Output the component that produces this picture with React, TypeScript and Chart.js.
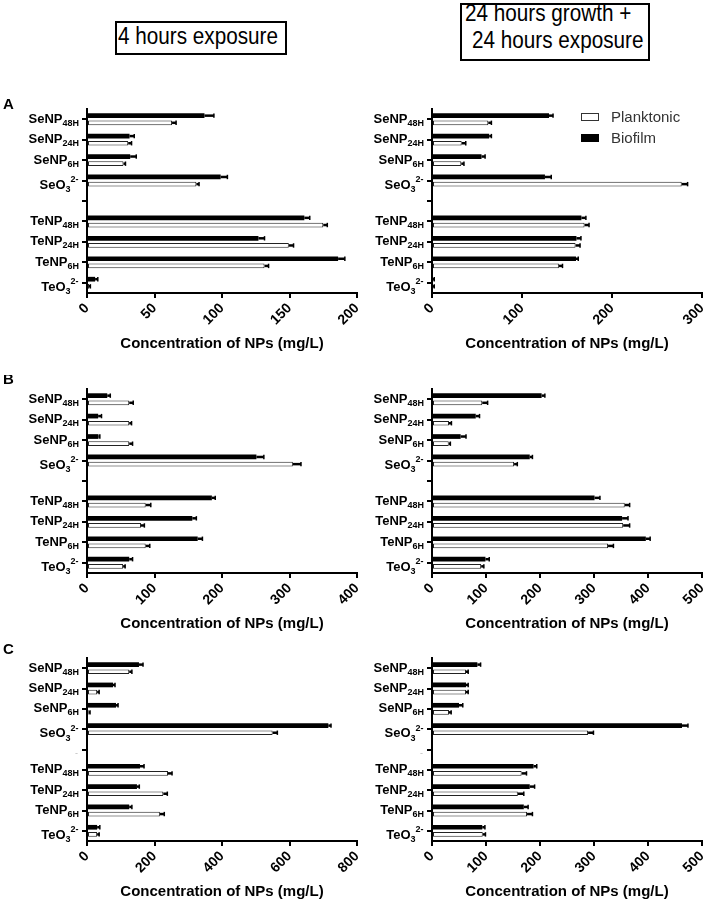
import React, { useEffect, useRef } from 'react';
import { Chart, registerables } from 'chart.js';

Chart.register(...registerables);

const FONT = '"Liberation Sans", Arial, Helvetica, sans-serif';

// ---------- data ----------
const categories = ['SeNP48H', 'SeNP24H', 'SeNP6H', 'SeO3', '', 'TeNP48H', 'TeNP24H', 'TeNP6H', 'TeO3'];
const seriesNames = ['Planktonic', 'Biofilm'];
const xTitle = 'Concentration of NPs (mg/L)';
const panelTitles = ['4 hours exposure', '24 hours growth +', '24 hours exposure'];

// Panel A, 4 hours exposure
const aLeftBiofilm = [87, 31.5, 32, 99, null, 161, 127, 186, 6];
const aLeftBiofilmErr = [7, 3.5, 4.5, 5, null, 4, 4.5, 5, 2];
const aLeftPlanktonic = [63, 30.5, 27, 81, null, 175, 149.5, 131.5, 1.5];
const aLeftPlanktonicErr = [3, 2.5, 1.5, 2, null, 3, 3.5, 3, 1];
// Panel A, 24 h growth + 24 h exposure
const aRightBiofilm = [130, 63.5, 55, 125.5, null, 166, 160.5, 160, 1];
const aRightBiofilmErr = [4.5, 2.5, 4, 7, null, 5, 5, 2.5, 1.5];
const aRightPlanktonic = [62.5, 33, 32.5, 277.5, null, 169.5, 159.5, 141, 1];
const aRightPlanktonicErr = [3.5, 4.5, 3, 6.5, null, 5, 5, 4, 1.5];
// Panel B
const bLeftBiofilm = [30, 16.5, 17, 251, null, 185, 156, 164, 62.5];
const bLeftBiofilmErr = [4.5, 5, 2, 11, null, 5, 6, 7, 5];
const bLeftPlanktonic = [62.5, 62.5, 62.5, 305, null, 87, 80, 87, 53.5];
const bLeftPlanktonicErr = [6, 3.5, 5, 12, null, 7.5, 5, 6, 3];
const bRightBiofilm = [203, 81, 53, 181, null, 301, 352, 396, 99];
const bRightBiofilmErr = [6, 7, 10, 5, null, 10, 11, 8, 7];
const bRightPlanktonic = [93, 31.5, 31, 152, null, 357, 354, 326, 91];
const bRightPlanktonicErr = [10, 4.5, 3, 6, null, 9, 12, 10, 5];
// Panel C
const cLeftBiofilm = [154, 77, 86, 715, null, 157, 148, 125, 30];
const cLeftBiofilmErr = [12, 6, 6, 8, null, 12, 7, 8, 8];
const cLeftPlanktonic = [125, 30, 5, 550, null, 240, 226, 216, 30];
const cLeftPlanktonicErr = [8, 6, 4, 14, null, 12, 12, 13, 6];
const cRightBiofilm = [84, 63, 50, 463, null, 188, 181, 170, 93];
const cRightBiofilmErr = [6, 4, 7, 11, null, 6, 9, 8, 5];
const cRightPlanktonic = [63, 63, 31.5, 289, null, 166, 159, 176, 94];
const cRightPlanktonicErr = [4, 4, 4, 10, null, 9, 11, 10, 5];

const xMaxA = [200, 300];
const xStepA = [50, 100];
const xMaxB = [400, 500];
const xStepB = [100, 100];
const xMaxC = [800, 500];
const xStepC = [200, 100];

// ---------- helpers ----------
type Part = [string, 'n' | 'sub' | 'sup'];
function labelParts(c: string): Part[] {
  const m = c.match(/^(SeNP|TeNP)(\d+H)$/);
  if (m) return [[m[1], 'n'], [m[2], 'sub']];
  const o = c.match(/^(SeO|TeO)(\d)$/);
  if (o) return [[o[1], 'n'], [o[2], 'sub'], ['2-', 'sup']];
  return [];
}

const decorPlugin = {
  id: 'panelDecor',
  afterDatasetsDraw(chart: any) {
    const ctx = chart.ctx;
    const xs = chart.scales.x;
    ctx.save();
    ctx.strokeStyle = '#000';
    chart.data.datasets.forEach((ds: any, di: number) => {
      const meta = chart.getDatasetMeta(di);
      meta.data.forEach((bar: any, i: number) => {
        const v = ds.data[i];
        const e = ds.errors ? ds.errors[i] : null;
        if (v == null || e == null) return;
        const x0 = xs.getPixelForValue(v);
        const x1 = xs.getPixelForValue(v + e);
        const y = bar.y;
        ctx.lineWidth = 2.5;
        ctx.beginPath();
        ctx.moveTo(x0, y);
        ctx.lineTo(x1, y);
        ctx.stroke();
        ctx.lineWidth = 1.5;
        ctx.beginPath();
        ctx.moveTo(x1, y - 2.2);
        ctx.lineTo(x1, y + 2.2);
        ctx.stroke();
      });
    });
    ctx.restore();
  },
  afterDraw(chart: any, _args: any, opts: any) {
    const ctx = chart.ctx;
    const ys = chart.scales.y;
    const area = chart.chartArea;
    ctx.save();
    ctx.fillStyle = '#000';
    ctx.textBaseline = 'alphabetic';
    ctx.textAlign = 'left';
    const fMain = `bold 13px ${FONT}`;
    const fSmall = `bold 9px ${FONT}`;
    categories.forEach((c, i) => {
      const py = ys.getPixelForValue(i);
      const parts = labelParts(c);
      if (!parts.length) {
        if (opts.dash) {
          ctx.font = `9px ${FONT}`;
          ctx.fillStyle = '#bbb';
          ctx.textAlign = 'right';
          ctx.fillText('-', area.left - 9, py + 6);
          ctx.textAlign = 'left';
          ctx.fillStyle = '#000';
        }
        return;
      }
      const hasSup = parts.some((p) => p[1] === 'sup');
      let total = 0;
      const widths = parts.map((p) => {
        ctx.font = p[1] === 'n' ? fMain : fSmall;
        const w = ctx.measureText(p[0]).width + (p[1] === 'sup' ? 0.5 : 0);
        total += w;
        return w;
      });
      let x = area.left - 8 - total;
      parts.forEach((p, k) => {
        ctx.font = p[1] === 'n' ? fMain : fSmall;
        let by;
        if (hasSup) {
          by = p[1] === 'n' ? py + 8 : p[1] === 'sub' ? py + 11.5 : py + 1.5;
        } else {
          by = p[1] === 'n' ? py + 3.5 : py + 6.5;
        }
        ctx.fillText(p[0], x, by);
        x += widths[k];
      });
    });
    // axis title
    ctx.font = `bold 15px ${FONT}`;
    ctx.textAlign = 'center';
    ctx.textBaseline = 'middle';
    ctx.fillText(xTitle, (area.left + area.right) / 2, area.bottom + 51);
    // panel letter
    if (opts.letter) {
      ctx.font = `bold 15px ${FONT}`;
      ctx.textAlign = 'left';
      ctx.fillText(opts.letter.text, 3, opts.letter.y);
    }
    ctx.restore();
  },
};

type PanelProps = {
  left: number;
  top: number;
  width: number;
  height: number;
  yWidth: number;
  padRight: number;
  plotH: number;
  xMax: number;
  step: number;
  bio: (number | null)[];
  bioErr: (number | null)[];
  pla: (number | null)[];
  plaErr: (number | null)[];
  letter?: { text: string; y: number };
  dash?: boolean;
};

function Panel(p: PanelProps) {
  const ref = useRef<HTMLCanvasElement>(null);
  useEffect(() => {
    const chart = new Chart(ref.current as HTMLCanvasElement, {
      type: 'bar',
      data: {
        labels: categories,
        datasets: [
          {
            label: 'Biofilm',
            data: p.bio,
            errors: p.bioErr,
            backgroundColor: '#000',
            borderWidth: 0,
            categoryPercentage: 0.7,
            barPercentage: 0.66,
          } as any,
          {
            label: 'Planktonic',
            data: p.pla,
            errors: p.plaErr,
            backgroundColor: '#fff',
            borderColor: '#222',
            borderWidth: 1,
            borderSkipped: false,
            categoryPercentage: 0.7,
            barPercentage: 0.66,
          } as any,
        ],
      },
      options: {
        indexAxis: 'y',
        responsive: true,
        maintainAspectRatio: false,
        animation: false,
        layout: { padding: { top: 14, left: 0, right: p.padRight, bottom: 0 } },
        plugins: {
          legend: { display: false },
          tooltip: { enabled: false },
          panelDecor: { letter: p.letter, dash: p.dash },
        } as any,
        scales: {
          x: {
            type: 'linear',
            min: 0,
            max: p.xMax,
            ticks: {
              stepSize: p.step,
              autoSkip: false,
              minRotation: 45,
              maxRotation: 45,
              color: '#000',
              padding: 2,
              font: { family: FONT, size: 14, weight: 'bold' },
            },
            grid: { drawOnChartArea: false, drawTicks: true, tickLength: 5, color: '#000', lineWidth: 2 },
            border: { display: true, color: '#000', width: 2 },
            afterFit: (s: any) => {
              s.height = p.height - 14 - p.plotH;
              s.paddingLeft = 0;
              s.paddingRight = 0;
            },
          },
          y: {
            type: 'category',
            ticks: { autoSkip: false, callback: () => '', font: { size: 10 } },
            grid: { offset: false, drawOnChartArea: false, drawTicks: true, tickLength: 5, color: '#000', lineWidth: 2 },
            border: { display: true, color: '#000', width: 2 },
            afterFit: (s: any) => {
              s.width = p.yWidth;
              s.paddingTop = 0;
              s.paddingBottom = 0;
            },
          },
        } as any,
      },
      plugins: [decorPlugin as any],
    });
    return () => chart.destroy();
  }, []);
  return (
    <div style={{ position: 'absolute', left: p.left, top: p.top, width: p.width, height: p.height }}>
      <canvas ref={ref} />
    </div>
  );
}

const L = { left: 0, width: 370, yWidth: 87, padRight: 13 };
const R = { left: 354, width: 354, yWidth: 78, padRight: 6 };

export default function App() {
  const titleText: React.CSSProperties = {
    position: 'absolute',
    fontFamily: FONT,
    fontSize: 23,
    lineHeight: '23px',
    whiteSpace: 'pre',
    color: '#000',
    transform: 'scaleX(0.9)',
    transformOrigin: 'left top',
  };
  const legendText: React.CSSProperties = {
    position: 'absolute',
    fontFamily: FONT,
    fontSize: 15,
    lineHeight: '18px',
    color: '#333',
  };
  return (
    <div style={{ position: 'absolute', left: 0, top: 0, width: 708, height: 905, background: '#fff', overflow: 'hidden' }}>
      {/* title boxes */}
      <div style={{ position: 'absolute', left: 115, top: 21, width: 172, height: 34, border: '2.5px solid #000', boxSizing: 'border-box' }} />
      <div style={{ ...titleText, left: 118, top: 25 }}>{panelTitles[0]}</div>
      <div style={{ position: 'absolute', left: 460, top: 3, width: 190, height: 58, border: '2.5px solid #000', boxSizing: 'border-box' }} />
      <div style={{ ...titleText, left: 465, top: 2 }}>{panelTitles[1]}</div>
      <div style={{ ...titleText, left: 472, top: 29 }}>{panelTitles[2]}</div>

      <Panel {...L} top={95} height={270} plotH={184} xMax={xMaxA[0]} step={xStepA[0]}
        bio={aLeftBiofilm} bioErr={aLeftBiofilmErr} pla={aLeftPlanktonic} plaErr={aLeftPlanktonicErr}
        letter={{ text: 'A', y: 10 }} />
      <Panel {...R} top={95} height={270} plotH={184} xMax={xMaxA[1]} step={xStepA[1]}
        bio={aRightBiofilm} bioErr={aRightBiofilmErr} pla={aRightPlanktonic} plaErr={aRightPlanktonicErr} />

      <Panel {...L} top={375} height={270} plotH={184} xMax={xMaxB[0]} step={xStepB[0]}
        bio={bLeftBiofilm} bioErr={bLeftBiofilmErr} pla={bLeftPlanktonic} plaErr={bLeftPlanktonicErr}
        letter={{ text: 'B', y: 5 }} />
      <Panel {...R} top={375} height={270} plotH={184} xMax={xMaxB[1]} step={xStepB[1]}
        bio={bRightBiofilm} bioErr={bRightBiofilmErr} pla={bRightPlanktonic} plaErr={bRightPlanktonicErr} />

      <Panel {...L} top={644} height={261} plotH={183} xMax={xMaxC[0]} step={xStepC[0]}
        bio={cLeftBiofilm} bioErr={cLeftBiofilmErr} pla={cLeftPlanktonic} plaErr={cLeftPlanktonicErr}
        letter={{ text: 'C', y: 6 }} dash />
      <Panel {...R} top={644} height={261} plotH={183} xMax={xMaxC[1]} step={xStepC[1]}
        bio={cRightBiofilm} bioErr={cRightBiofilmErr} pla={cRightPlanktonic} plaErr={cRightPlanktonicErr} dash />

      {/* legend */}
      <div style={{ position: 'absolute', left: 581, top: 113, width: 18, height: 8, border: '1.5px solid #333', background: '#fff', boxSizing: 'border-box' }} />
      <div style={{ ...legendText, left: 611, top: 108 }}>{seriesNames[0]}</div>
      <div style={{ position: 'absolute', left: 581, top: 134, width: 18, height: 8, background: '#000' }} />
      <div style={{ ...legendText, left: 611, top: 129 }}>{seriesNames[1]}</div>
    </div>
  );
}
